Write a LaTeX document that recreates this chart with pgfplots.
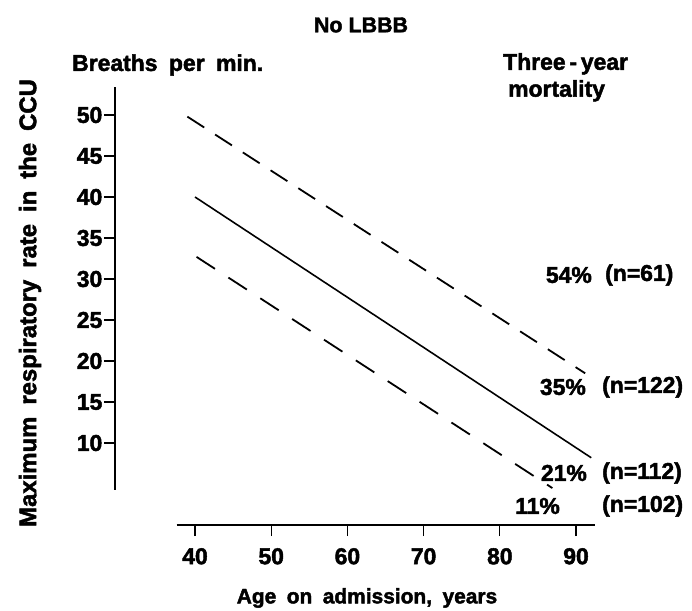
\documentclass[border=0pt]{standalone}
\usepackage{fontspec}
\setmainfont{Liberation Sans Bold}[WordSpace=1.8, FakeBold=2]
\usepackage{pgfplots}
\pgfplotsset{compat=1.18}

\begin{document}
\begin{tikzpicture}
\useasboundingbox (-115bp,-86bp) rectangle (577bp,525bp);
\begin{axis}[
    x=7.62bp, y=8.2bp,
    xmin=29.5, xmax=93,
    ymin=0, ymax=54,
    axis lines=left,
    axis line style={draw=none},
    clip=false,
    xtick={40,50,60,70,80,90},
    ytick={10,15,20,25,30,35,40,45,50},
    tick align=outside,
    major tick length=11bp,
    every tick/.style={black, line width=1.2pt},
    ticklabel style={font=\fontsize{23}{24}\selectfont},
    yticklabel style={inner sep=1.5bp},
    xticklabel style={inner sep=12bp},
    /pgf/number format/assume math mode=true,
]
    % upper dashed band
    \addplot[black, line width=1.8pt, dash pattern=on 20bp off 13bp]
        coordinates {(39,49.8) (91.2,18.5)};
    % fitted line
    \addplot[black, line width=1.6pt]
        coordinates {(40,40) (92,8.2)};
    % lower dashed band
    \addplot[black, line width=1.8pt, dash pattern=on 22bp off 16bp]
        coordinates {(40.2,32.7) (86.9,4.5)};

    % axis lines, kept apart as in the original
    \draw[line width=1.6pt] (axis cs:37.6,0) -- (axis cs:92.5,0);
    \draw[line width=1.6pt] (axis cs:29.5,4.3) -- (axis cs:29.5,53.4);
\end{axis}

\begin{scope}[every node/.style={inner sep=0pt, font=\fontsize{23}{24}\selectfont}]
    \node[font=\fontsize{21.5}{22}\selectfont] at (246bp,500bp) {No\hspace{6bp}LBBB};
    \node[anchor=west] at (-43bp,460bp) {Breaths per min.};
    \node[anchor=north west, align=left, font=\fontsize{23}{27}\selectfont]
        at (388bp,472bp) {Three\,-\,year\\\hspace*{5bp}mortality};
    \node[rotate=90, font=\fontsize{24}{24}\selectfont] at (-85bp,222bp)
        {Maximum respiratory rate in the CCU};
    \node[font=\fontsize{21}{22}\selectfont] at (252bp,-73bp) {Age on admission, years};

    \node[anchor=east] at (477bp,250bp) {54\%};
    \node[anchor=west] at (490bp,250bp) {(n=61)};
    \node[anchor=east] at (471bp,138bp) {35\%};
    \node[anchor=west] at (487bp,138bp) {(n=122)};
    \node[anchor=east] at (472bp,52bp) {21\%};
    \node[anchor=west] at (487bp,52bp) {(n=112)};
    \node[anchor=east] at (445bp,19bp) {11\%};
    \node[anchor=west] at (487bp,19bp) {(n=102)};
\end{scope}
\end{tikzpicture}
\end{document}
